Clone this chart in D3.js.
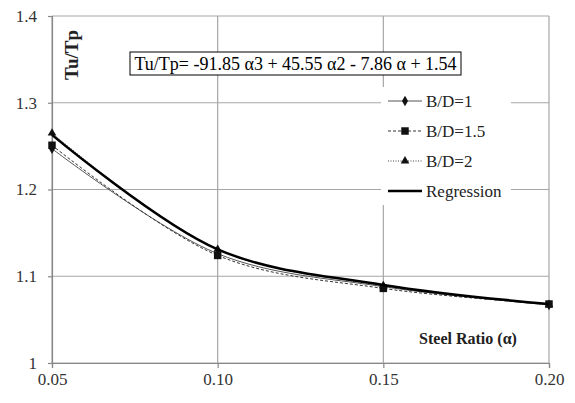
<!DOCTYPE html>
<html>
<head>
<meta charset="utf-8">
<script src="https://cdn.jsdelivr.net/npm/d3@7"></script>
<style>
  body { margin: 0; background: #fff; }
  svg { display: block; }
</style>
</head>
<body>
<div id="chart"></div>
<script>
// data
const ratios = [0.05, 0.10, 0.15, 0.20];
const bd1 = [1.247, 1.126, 1.088, 1.067];
const bd15 = [1.251, 1.124, 1.086, 1.068];
const bd2 = [1.265, 1.131, 1.089, 1.067];
const regression = [1.263, 1.131, 1.090, 1.068];
const xTicks = [0.05, 0.10, 0.15, 0.20];
const yTicks = [1.0, 1.1, 1.2, 1.3, 1.4];
const equation = "Tu/Tp= -91.85 \u03b13 + 45.55 \u03b12 - 7.86 \u03b1 + 1.54";

const FONT = '"Liberation Serif"';
const width = 575, height = 403;
const margin = { top: 16, right: 26, bottom: 40, left: 52 };

const svg = d3.select("#chart").append("svg")
  .attr("width", width).attr("height", height);

const x = d3.scaleLinear().domain([0.05, 0.20]).range([margin.left, width - margin.right]);
const y = d3.scaleLinear().domain([1.0, 1.4]).range([height - margin.bottom, margin.top]);

// gridlines
svg.append("g").selectAll("line").data(yTicks).enter().append("line")
  .attr("x1", margin.left).attr("x2", width - margin.right)
  .attr("y1", d => y(d)).attr("y2", d => y(d))
  .attr("stroke", "#a6a6a6").attr("stroke-width", 1.2);
svg.append("g").selectAll("line").data(xTicks).enter().append("line")
  .attr("x1", d => x(d)).attr("x2", d => x(d))
  .attr("y1", margin.top).attr("y2", height - margin.bottom)
  .attr("stroke", "#a6a6a6").attr("stroke-width", 1.2);

// axes
const xAxis = svg.append("g")
  .attr("transform", `translate(0,${height - margin.bottom})`)
  .call(d3.axisBottom(x).tickValues(xTicks).tickFormat(d3.format(".2f")).tickSizeOuter(0).tickSize(5).tickPadding(5));
const yAxis = svg.append("g")
  .attr("transform", `translate(${margin.left},0)`)
  .call(d3.axisLeft(y).tickValues(yTicks).tickFormat(d => d === 1 ? "1" : d3.format(".1f")(d)).tickSizeOuter(0).tickSize(4).tickPadding(11));
[xAxis, yAxis].forEach(a => {
  a.select(".domain").attr("stroke", "#888").attr("stroke-width", 1.2);
  a.selectAll(".tick line").attr("stroke", "#888").attr("stroke-width", 1.2);
  a.selectAll("text").attr("fill", "#333")
    .style("font-family", FONT).style("font-size", "17px");
});

// series
const series = [
  { name: "B/D=1", values: bd1, dash: null, color: "#555", width: 1, marker: d3.symbolDiamond, msize: 32 },
  { name: "B/D=1.5", values: bd15, dash: "3,2", color: "#333", width: 1, marker: d3.symbolSquare, msize: 56 },
  { name: "B/D=2", values: bd2, dash: "1,1.5", color: "#444", width: 1, marker: d3.symbolTriangle, msize: 32 },
  { name: "Regression", values: regression, dash: null, color: "#000", width: 2.5, marker: null }
];

const line = d3.line()
  .x((d, i) => x(ratios[i]))
  .y(d => y(d))
  .curve(d3.curveCatmullRom.alpha(0.5));

series.forEach(s => {
  svg.append("path").datum(s.values)
    .attr("d", line)
    .attr("fill", "none")
    .attr("stroke", s.color)
    .attr("stroke-width", s.width)
    .attr("stroke-dasharray", s.dash);
  if (s.marker) {
    svg.append("g").selectAll("path").data(s.values).enter().append("path")
      .attr("d", d3.symbol().type(s.marker).size(s.msize))
      .attr("transform", (d, i) => `translate(${x(ratios[i])},${y(d)})`)
      .attr("fill", "#111");
  }
});

// equation box
const eqG = svg.append("g");
eqG.append("rect")
  .attr("x", 130).attr("y", 52).attr("width", 331).attr("height", 23)
  .attr("fill", "#fff").attr("stroke", "#000").attr("stroke-width", 1);
eqG.append("text")
  .attr("x", 295.5).attr("y", 69.5).attr("text-anchor", "middle")
  .style("font-family", FONT).style("font-size", "18px")
  .attr("fill", "#000").text(equation);

// legend
const legend = svg.append("g");
legend.append("rect")
  .attr("x", 381).attr("y", 87).attr("width", 130).attr("height", 118)
  .attr("fill", "#fff");
const lg = legend.selectAll("g").data(series).enter().append("g")
  .attr("transform", (d, i) => `translate(388,${101 + i * 30})`);
lg.append("line")
  .attr("x1", 0).attr("x2", 34).attr("y1", 0).attr("y2", 0)
  .attr("stroke", d => d.color)
  .attr("stroke-width", d => d.width)
  .attr("stroke-dasharray", d => d.dash);
lg.filter(d => d.marker).append("path")
  .attr("d", d => d3.symbol().type(d.marker).size(d.msize)())
  .attr("transform", "translate(17,0)")
  .attr("fill", "#111");
lg.append("text")
  .attr("x", 38).attr("y", 5.5)
  .style("font-family", FONT).style("font-size", "17px")
  .attr("fill", "#222")
  .text(d => d.name);

// axis titles
svg.append("text")
  .attr("transform", "translate(78,55) rotate(-90)")
  .attr("text-anchor", "middle")
  .style("font-family", FONT).style("font-size", "19px").style("font-weight", "bold")
  .attr("fill", "#222")
  .text("Tu/Tp");
svg.append("text")
  .attr("x", 468).attr("y", 344).attr("text-anchor", "middle")
  .style("font-family", FONT).style("font-size", "16px").style("font-weight", "bold")
  .attr("fill", "#222")
  .text("Steel Ratio (\u03b1)");
</script>
</body>
</html>
